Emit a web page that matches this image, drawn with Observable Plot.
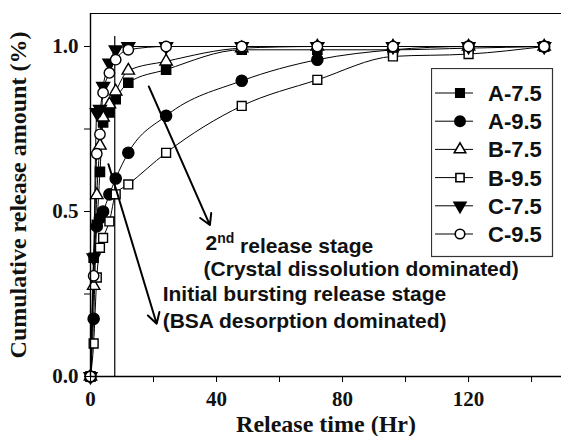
<!DOCTYPE html>
<html><head><meta charset="utf-8">
<script src="https://cdn.jsdelivr.net/npm/d3@7"></script>
<script src="https://cdn.jsdelivr.net/npm/@observablehq/plot@0.6"></script>
<style>
body{margin:0;background:#fff;}
#wrap{position:relative;width:561px;height:436px;}
</style></head><body><div id="wrap"></div>
<script>
// ---- data ----
const times = [0, 1, 2, 3, 4, 6, 8, 12, 24, 48, 72, 96, 120, 144];
const seriesNames = ["A-7.5", "A-9.5", "B-7.5", "B-9.5", "C-7.5", "C-9.5"];
const a75 = [0, 0.36, 0.46, 0.62, 0.77, 0.80, 0.84, 0.89, 0.93, 0.99, 0.99, 0.99, 0.995, 1.0];
const a95 = [0, 0.175, 0.455, 0.48, 0.50, 0.552, 0.60, 0.678, 0.79, 0.896, 0.96, 0.99, 1.0, 1.0];
const b75 = [0, 0.275, 0.55, 0.70, 0.785, 0.825, 0.864, 0.927, 0.955, 0.995, 1.0, 1.0, 1.0, 1.0];
const b95 = [0, 0.10, 0.30, 0.39, 0.42, 0.47, 0.552, 0.582, 0.678, 0.82, 0.899, 0.97, 0.977, 1.0];
const c75 = [0, 0.36, 0.80, 0.81, 0.88, 0.95, 0.99, 1.0, 1.0, 1.0, 1.0, 1.0, 1.0, 1.0];
const c95 = [0, 0.305, 0.675, 0.734, 0.86, 0.92, 0.96, 0.99, 1.0, 1.0, 1.0, 1.0, 1.0, 1.0];
const xTicks = [0, 40, 80, 120];
const xMinorTicks = [20, 60, 100, 140];
const yTicks = [0, 0.5, 1.0];
const yMinorTicks = [0.25, 0.75];
const xDomain = [0, 149.5];
const yDomain = [0, 1.1];
const xLabel = "Release time (Hr)";
const yLabel = "Cumulative release amount (%)";
const stageBoundary = {x: 7.7, y1: 0, y2: 1.03};
const annotations = [
  {text: "2nd release stage", x: 36.5, y: 0.405},
  {text: "(Crystal dissolution dominated)", x: 35.9, y: 0.325},
  {text: "Initial bursting release stage", x: 22.9, y: 0.248},
  {text: "(BSA desorption dominated)", x: 22.9, y: 0.167}
];
const arrows = [
  {x1: 18.5, y1: 0.879, x2: 37.9, y2: 0.459},
  {x1: 5.7, y1: 0.643, x2: 21.0, y2: 0.160}
];

// ---- styles ----
const triangleDown = {
  draw(context, size) {
    const y = Math.sqrt(size / (Math.sqrt(3) * 3));
    context.moveTo(0, y * 2);
    context.lineTo(Math.sqrt(3) * y, -y);
    context.lineTo(-Math.sqrt(3) * y, -y);
    context.closePath();
  }
};
const styles = {
  "A-7.5": {symbol: "square", fill: "black", r: 5.2},
  "A-9.5": {symbol: "circle", fill: "black", r: 5.6},
  "B-7.5": {symbol: "triangle", fill: "white", r: 4.6},
  "B-9.5": {symbol: "square", fill: "white", r: 5.0},
  "C-7.5": {symbol: triangleDown, fill: "black", r: 4.8},
  "C-9.5": {symbol: "circle", fill: "white", r: 5.2}
};
const valuesBySeries = [a75, a95, b75, b95, c75, c95];
const rows = [];
seriesNames.forEach((s, i) => times.forEach((t, j) => rows.push({series: s, t, v: valuesBySeries[i][j]})));

const serif = "Liberation Serif, Times New Roman, serif";
const sans = "Liberation Sans, Arial, sans-serif";

const marks = [
  Plot.ruleY([yDomain[1]], {stroke: "black", strokeWidth: 1.2}),
  Plot.ruleX([stageBoundary], {x: "x", y1: "y1", y2: "y2", stroke: "black", strokeWidth: 1.2}),
  Plot.line(rows, {x: "t", y: "v", z: "series", curve: "monotone-x", stroke: "black", strokeWidth: 1})
];
seriesNames.forEach(s => {
  const st = styles[s];
  marks.push(Plot.dot(rows.filter(d => d.series === s), {
    x: "t", y: "v", symbol: st.symbol, r: st.r, fill: st.fill, stroke: "black", strokeWidth: 1.4
  }));
});
marks.push(
  Plot.arrow(arrows, {x1: "x1", y1: "y1", x2: "x2", y2: "y2", stroke: "black", strokeWidth: 2, headLength: 9, bend: 0}),
  Plot.text(annotations, {x: "x", y: "y", text: "text", textAnchor: "start", lineAnchor: "middle",
    fontFamily: sans, fontWeight: "bold", fontSize: 21, fill: "#111"}),
  Plot.ruleX([0], {stroke: "black", strokeWidth: 1.4}),
  Plot.ruleY([0], {stroke: "black", strokeWidth: 1.4}),
  Plot.axisX({ticks: xTicks, tickSize: 6, tickPadding: 9, label: null, tickFormat: d => String(d),
    fontFamily: serif, fontWeight: "bold", fontSize: 21, fill: "#111", stroke: "black"}),
  Plot.axisX({ticks: xMinorTicks, tickSize: 6, label: null, tickFormat: () => "", stroke: "black"}),
  Plot.axisY({ticks: yTicks, tickSize: 6, tickPadding: 6, label: null, tickFormat: d3.format(".1f"),
    fontFamily: serif, fontWeight: "bold", fontSize: 21, fill: "#111", stroke: "black"}),
  Plot.axisY({ticks: yMinorTicks, tickSize: 6, label: null, tickFormat: () => "", stroke: "black"}),
  Plot.text([xLabel], {frameAnchor: "bottom", dy: 55, text: d => d, textAnchor: "middle", fontFamily: serif, fontWeight: "bold", fontSize: 24, fill: "#111"}),
  Plot.text([yLabel], {frameAnchor: "left", dx: -72, rotate: -90, textAnchor: "middle", text: d => d, fontFamily: serif, fontWeight: "bold", fontSize: 24, fill: "#111"})
);

const chart = Plot.plot({
  width: 561, height: 436,
  marginLeft: 90, marginRight: 0, marginTop: 13, marginBottom: 60,
  x: {domain: xDomain},
  y: {domain: yDomain},
  style: {background: "white", overflow: "visible"},
  marks
});
document.getElementById("wrap").appendChild(chart);

// superscript for "2nd"
d3.select(chart).selectAll("text").each(function() {
  if (this.textContent === "2nd release stage") {
    const el = d3.select(this);
    el.text(null);
    el.append("tspan").text("2");
    el.append("tspan").attr("dy", "-0.45em").attr("font-size", "14").text("nd");
    el.append("tspan").attr("dy", "0.45em").text(" release stage");
  }
});

// legend (inside the frame, upper right)
const lg = d3.select("#wrap").append("svg")
  .attr("width", 123).attr("height", 190)
  .style("position", "absolute").style("left", "431px").style("top", "68px");
lg.append("rect").attr("x", 0.5).attr("y", 0.5).attr("width", 121).attr("height", 188)
  .attr("fill", "white").attr("stroke", "#333").attr("stroke-width", 1.2);
seriesNames.forEach((s, i) => {
  const st = styles[s];
  const g = lg.append("g").attr("transform", `translate(0, ${25 + i * 28.2})`);
  g.append("line").attr("x1", 4).attr("x2", 42).attr("y1", 0).attr("y2", 0).attr("stroke", "black").attr("stroke-width", 1);
  const type = typeof st.symbol === "string" ? {square: d3.symbolSquare, circle: d3.symbolCircle, triangle: d3.symbolTriangle}[st.symbol] : st.symbol;
  g.append("path").attr("transform", "translate(29,0)")
    .attr("d", d3.symbol(type, Math.PI * st.r * st.r * 0.85)())
    .attr("fill", st.fill).attr("stroke", "black").attr("stroke-width", 1.6);
  g.append("text").attr("x", 57).attr("y", 0).attr("dy", "0.36em")
    .attr("font-family", sans).attr("font-weight", "bold").attr("font-size", 22).attr("fill", "#111").text(s);
});
</script></body></html>
